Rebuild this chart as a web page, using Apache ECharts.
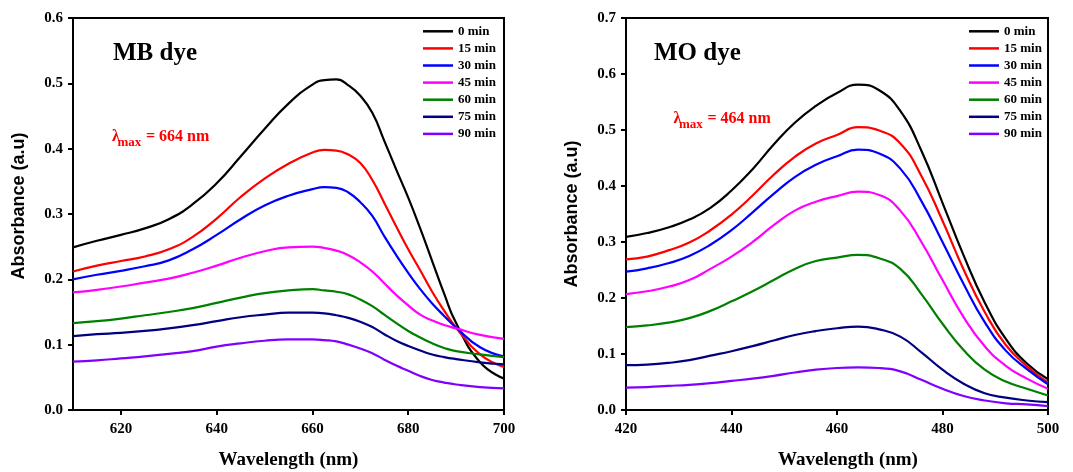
<!DOCTYPE html>
<html>
<head>
<meta charset="utf-8">
<script src="https://cdn.jsdelivr.net/npm/echarts@6/dist/echarts.min.js"></script>
<style>
  html, body { margin: 0; padding: 0; background: #fff; }
  #chart { width: 1073px; height: 472px; }
</style>
</head>
<body>
<div id="chart"></div>
<script>
// Irradiation times and their line colours
const timeLabels = ['0 min', '15 min', '30 min', '45 min', '60 min', '75 min', '90 min'];
const timeColors = ['#000000', '#ff0000', '#0000ff', '#ff00ff', '#008000', '#000080', '#8000ff'];

// Methylene blue (MB) absorbance spectra (denser sampling around the band and its red edge)
const mbWavelength = [610, 615, 620, 625, 630, 635, 640, 645, 650, 655,
                      660, 662.5, 665, 667.5, 670, 672.5, 675, 677.5, 680, 682.5, 685, 687.5, 690,
                      695, 700];
const mb0  = [0.249, 0.259, 0.268, 0.278, 0.292, 0.315, 0.347, 0.388, 0.430, 0.469,
              0.498, 0.505, 0.506, 0.497, 0.481, 0.455, 0.412, 0.368, 0.325, 0.278, 0.228, 0.178, 0.133,
              0.073, 0.048];
const mb15 = [0.212, 0.221, 0.228, 0.235, 0.246, 0.265, 0.293, 0.326, 0.354, 0.377,
              0.394, 0.398, 0.397, 0.391, 0.378, 0.352, 0.317, 0.281, 0.246, 0.214, 0.181, 0.152, 0.126,
              0.085, 0.066];
const mb30 = [0.200, 0.207, 0.213, 0.220, 0.229, 0.246, 0.268, 0.292, 0.313, 0.328,
              0.338, 0.341, 0.340, 0.333, 0.318, 0.297, 0.266, 0.237, 0.210, 0.185, 0.163, 0.144, 0.126,
              0.096, 0.082];
const mb45 = [0.180, 0.184, 0.189, 0.195, 0.201, 0.210, 0.221, 0.233, 0.243, 0.249,
              0.250, 0.248, 0.244, 0.237, 0.226, 0.212, 0.194, 0.176, 0.160, 0.146, 0.137, 0.130, 0.125,
              0.115, 0.109];
const mb60 = [0.133, 0.136, 0.140, 0.145, 0.150, 0.156, 0.164, 0.172, 0.179, 0.183,
              0.185, 0.183, 0.181, 0.177, 0.169, 0.159, 0.146, 0.133, 0.121, 0.111, 0.102, 0.095, 0.090,
              0.085, 0.081];
const mb75 = [0.113, 0.116, 0.118, 0.121, 0.125, 0.130, 0.136, 0.142, 0.146, 0.149,
              0.149, 0.148, 0.145, 0.141, 0.135, 0.127, 0.116, 0.106, 0.098, 0.091, 0.085, 0.081, 0.078,
              0.073, 0.070];
const mb90 = [0.074, 0.076, 0.079, 0.082, 0.086, 0.090, 0.097, 0.102, 0.106, 0.108,
              0.108, 0.107, 0.105, 0.100, 0.094, 0.087, 0.077, 0.068, 0.060, 0.052, 0.046, 0.042, 0.039,
              0.035, 0.033];

// Methyl orange (MO) absorbance spectra
const moWavelength = [420, 424, 428, 432, 436, 440, 444, 448, 452, 456, 460, 464, 468, 472, 476, 480, 484, 488, 492, 496, 500];
const mo0  = [0.309, 0.316, 0.326, 0.340, 0.361, 0.392, 0.430, 0.474, 0.513, 0.543, 0.566, 0.581, 0.571, 0.534, 0.463, 0.370, 0.276, 0.192, 0.127, 0.083, 0.055];
const mo15 = [0.269, 0.274, 0.285, 0.299, 0.321, 0.349, 0.383, 0.420, 0.452, 0.476, 0.491, 0.505, 0.499, 0.476, 0.418, 0.338, 0.251, 0.175, 0.116, 0.078, 0.049];
const mo30 = [0.247, 0.253, 0.262, 0.275, 0.295, 0.321, 0.353, 0.386, 0.416, 0.438, 0.453, 0.465, 0.458, 0.431, 0.373, 0.300, 0.225, 0.157, 0.106, 0.073, 0.046];
const mo45 = [0.207, 0.212, 0.220, 0.232, 0.252, 0.274, 0.300, 0.330, 0.356, 0.372, 0.382, 0.390, 0.384, 0.356, 0.300, 0.232, 0.166, 0.114, 0.079, 0.056, 0.038];
const mo60 = [0.148, 0.151, 0.156, 0.164, 0.177, 0.194, 0.212, 0.232, 0.252, 0.266, 0.272, 0.277, 0.271, 0.252, 0.207, 0.154, 0.107, 0.072, 0.051, 0.038, 0.026];
const mo75 = [0.080, 0.081, 0.084, 0.089, 0.097, 0.105, 0.114, 0.124, 0.134, 0.141, 0.146, 0.149, 0.144, 0.131, 0.103, 0.072, 0.047, 0.030, 0.022, 0.017, 0.014];
const mo90 = [0.040, 0.041, 0.043, 0.045, 0.048, 0.052, 0.056, 0.061, 0.067, 0.072, 0.075, 0.076, 0.075, 0.069, 0.054, 0.038, 0.025, 0.017, 0.012, 0.010, 0.007];

// Axis ticks
const mbTicks = [620, 640, 660, 680, 700];
const moTicks = [420, 440, 460, 480, 500];

const mbSets = [mb0, mb15, mb30, mb45, mb60, mb75, mb90];
const moSets = [mo0, mo15, mo30, mo45, mo60, mo75, mo90];

const SERIF = '"Liberation Serif", "Times New Roman", serif';
const SANS = '"Liberation Sans", Arial, sans-serif';

function spectrum(name, color, xs, ys, gridIdx) {
  return {
    name: name,
    type: 'line',
    xAxisIndex: gridIdx,
    yAxisIndex: gridIdx,
    data: xs.map((x, i) => [x, ys[i]]),
    smooth: 0.5,
    symbol: 'none',
    showSymbol: false,
    color: color,
    lineStyle: { color: color, width: 2.2 },
    animation: false
  };
}

const tickLabel = { fontFamily: SERIF, fontWeight: 'bold', fontSize: 15, color: '#000' };
const axisLineStyle = { show: true, lineStyle: { color: '#000', width: 2 } };

function xAxisDef(gridIdx, min, max, extra) {
  return Object.assign({
    type: 'value', gridIndex: gridIdx, min: min, max: max,
    name: 'Wavelength (nm)', nameLocation: 'middle', nameGap: 41,
    nameTextStyle: { fontFamily: SERIF, fontWeight: 'bold', fontSize: 19, color: '#000' },
    axisLine: axisLineStyle,
    axisTick: { show: true, inside: false, length: 5, lineStyle: { color: '#000', width: 2 } },
    axisLabel: Object.assign({ margin: 12 }, tickLabel),
    splitLine: { show: false }
  }, extra || {});
}

function yAxisDef(gridIdx, max, namePad) {
  return {
    type: 'value', gridIndex: gridIdx, min: 0, max: max, interval: 0.1,
    name: 'Absorbance (a.u)', nameLocation: 'middle', nameGap: 45,
    nameTextStyle: { fontFamily: SANS, fontWeight: 'bold', fontSize: 18, color: '#000', padding: namePad },
    axisLine: axisLineStyle,
    axisTick: { show: true, inside: false, length: 5, lineStyle: { color: '#000', width: 2 } },
    axisLabel: Object.assign({ margin: 10, formatter: v => v.toFixed(1) }, tickLabel),
    splitLine: { show: false }
  };
}

function legendDef(left) {
  return {
    orient: 'vertical', left: left, top: 24.3, padding: 0,
    icon: 'rect', itemWidth: 30, itemHeight: 2.5, itemGap: 3.1,
    data: timeLabels,
    selectedMode: false,
    textStyle: { fontFamily: SERIF, fontWeight: 'bold', fontSize: 13, color: '#000', lineHeight: 14 }
  };
}

function plainText(x, y, text, size, color) {
  return {
    type: 'text', x: x, y: y, silent: true,
    style: { text: text, fill: color, font: 'bold ' + size + 'px ' + SERIF, align: 'left', verticalAlign: 'middle' }
  };
}

// λ with a "max" subscript, followed by the wavelength value
function lambdaLabel(x, y, text) {
  return [
    plainText(x, y, 'λ', 16, '#ff0000'),
    plainText(x + 5.5, y + 6.3, 'max', 13, '#ff0000'),
    plainText(x + 34, y, text, 16, '#ff0000')
  ];
}

const series = [];
timeLabels.forEach((n, i) => series.push(spectrum(n, timeColors[i], mbWavelength, mbSets[i], 0)));
timeLabels.forEach((n, i) => series.push(spectrum(n, timeColors[i], moWavelength, moSets[i], 1)));

const gridBase = { top: 18, height: 392, show: true, borderColor: '#000', borderWidth: 2, backgroundColor: 'transparent', containLabel: false, outerBoundsMode: 'none' };

const option = {
  backgroundColor: '#fff',
  animation: false,
  grid: [
    Object.assign({ left: 73, width: 431 }, gridBase),
    Object.assign({ left: 626, width: 422 }, gridBase)
  ],
  xAxis: [
    xAxisDef(0, 610, 700, {
      axisTick: { show: true, inside: false, length: 5, customValues: mbTicks, lineStyle: { color: '#000', width: 2 } },
      axisLabel: Object.assign({ margin: 12, customValues: mbTicks }, tickLabel)
    }),
    xAxisDef(1, moTicks[0], moTicks[moTicks.length - 1], {
      interval: 20,
      nameTextStyle: { fontFamily: SERIF, fontWeight: 'bold', fontSize: 19, color: '#000', padding: [0, 0, 0, 22] }
    })
  ],
  yAxis: [
    yAxisDef(0, 0.6, [0, 0, 0, 16]),
    yAxisDef(1, 0.7, 0)
  ],
  legend: [legendDef(423), legendDef(969)],
  graphic: [
    plainText(113, 54, 'MB dye', 25, '#000'),
    plainText(654, 54, 'MO dye', 25, '#000')
  ].concat(lambdaLabel(112, 136.8, '= 664 nm'), lambdaLabel(673.5, 118.8, '= 464 nm')),
  series: series
};

const chart = echarts.init(document.getElementById('chart'), null, { renderer: 'canvas' });
chart.setOption(option);
</script>
</body>
</html>
